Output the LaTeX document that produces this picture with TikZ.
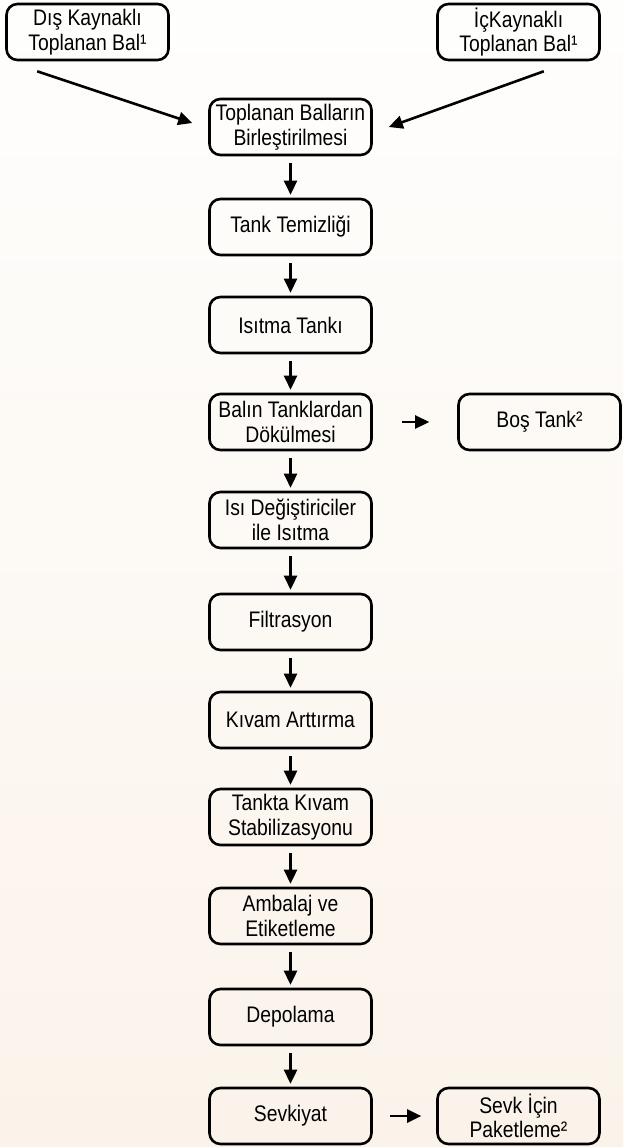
\documentclass[tikz,border=0pt]{standalone}
\usepackage{fontspec}
\setmainfont[FakeStretch=0.86]{Liberation Sans}
\usetikzlibrary{arrows.meta}
\definecolor{bgtop}{RGB}{254,254,253}
\definecolor{bgbot}{RGB}{251,243,234}
\tikzset{
  box/.style={draw=black, line width=2.6pt, rounded corners=11pt, fill=none,
    minimum width=162pt, minimum height=56pt, align=center, inner sep=2pt,
    font=\fontsize{22.5}{24.5}\selectfont, text=black},
  arr/.style={line width=2.6pt, -{Triangle[length=14pt,width=13pt]}},
  varr/.style={arr, shorten <=7pt, shorten >=3pt}
}
\begin{document}
\begin{tikzpicture}[x=1pt,y=-1pt]
\shade[top color=bgtop, bottom color=bgbot] (0,0) rectangle (623,1147);
\useasboundingbox (0,0) rectangle (623,1147);

\node[box] (dis) at (87.5,32) {Dış Kaynaklı\\Toplanan Bal¹};
\node[box] (ic) at (518.5,32) {İçKaynaklı\\Toplanan Bal¹};
\node[box] (top) at (290.5,127) {Toplanan Balların\\Birleştirilmesi};
\node[box] (tank) at (290.5,227) {Tank Temizliği};
\node[box] (isitma) at (290.5,325) {Isıtma Tankı};
\node[box] (balin) at (290.5,422) {Balın Tanklardan\\Dökülmesi};
\node[box] (bos) at (539.5,422) {Boş Tank²};
\node[box] (isi) at (290.5,520) {Isı Değiştiriciler\\ile Isıtma};
\node[box] (filt) at (290.5,622) {Filtrasyon};
\node[box] (kivam) at (290.5,720) {Kıvam Arttırma};
\node[box] (tankta) at (290.5,817) {Tankta Kıvam\\Stabilizasyonu};
\node[box] (amb) at (290.5,916) {Ambalaj ve\\Etiketleme};
\node[box] (depo) at (290.5,1017) {Depolama};
\node[box] (sevk) at (290.5,1116) {Sevkiyat};
\node[box] (paket) at (518.5,1116) {Sevk İçin\\Paketleme²};

\draw[arr] ([xshift=32pt,yshift=-10pt]dis.south west) -- ([xshift=-16pt,yshift=4pt]top.west);
\draw[arr] ([xshift=-57pt,yshift=-10pt]ic.south east) -- ([xshift=16pt]top.east);

\draw[varr] (top) -- (tank);
\draw[varr] (tank) -- (isitma);
\draw[varr] (isitma) -- (balin);
\draw[varr] (balin) -- (isi);
\draw[varr] (isi) -- (filt);
\draw[varr] (filt) -- (kivam);
\draw[varr] (kivam) -- (tankta);
\draw[varr] (tankta) -- (amb);
\draw[varr] (amb) -- (depo);
\draw[varr] (depo) -- (sevk);

\draw[arr, shorten <=29pt, shorten >=28pt] (balin) -- (bos);
\draw[arr, shorten <=17pt, shorten >=15pt] (sevk) -- (paket);
\end{tikzpicture}
\end{document}
